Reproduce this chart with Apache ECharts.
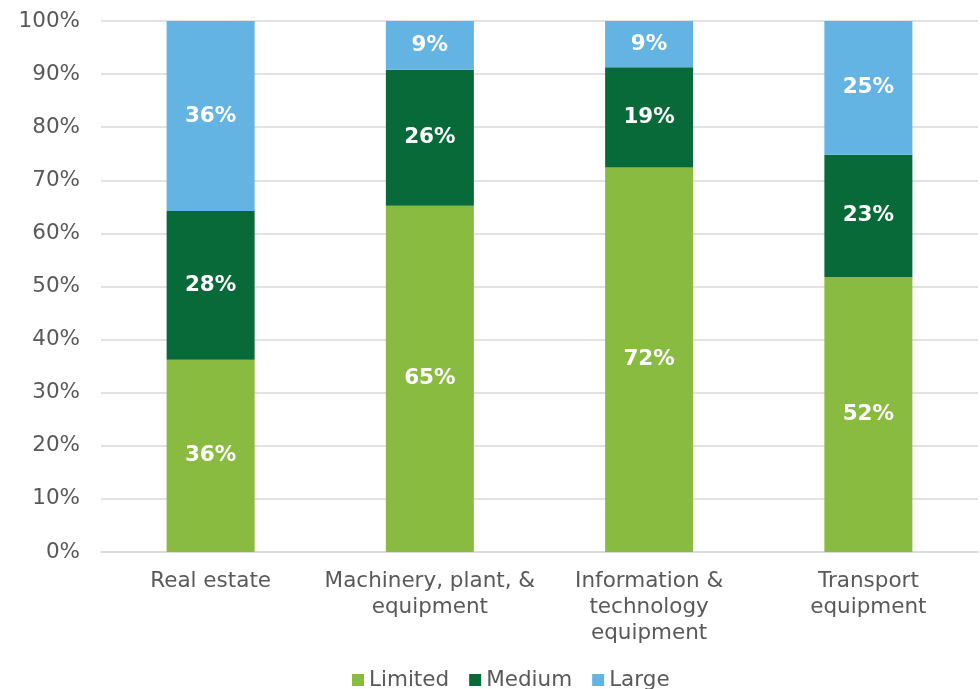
<!DOCTYPE html>
<html><head><meta charset="utf-8">
<script src="https://cdn.jsdelivr.net/npm/echarts@6/dist/echarts.min.js"></script>
<style>html,body{margin:0;padding:0;background:#fff}#c{width:980px;height:689px}</style>
</head><body><div id="c"></div>
<script>
const categories = ['Real estate', 'Machinery, plant, &\nequipment', 'Information &\ntechnology\nequipment', 'Transport\nequipment'];
const limited = [36.2, 65.2, 72.4, 51.8];
const medium = [28.0, 25.6, 18.9, 23.0];
const large = [35.8, 9.2, 8.7, 25.2];
const yTicks = [0, 10, 20, 30, 40, 50, 60, 70, 80, 90, 100];

const FONT = '"DejaVu Sans", sans-serif';
const FS = 21.5;
const chart = echarts.init(document.getElementById('c'));
const lbl = {
  show: true, position: 'inside', color: '#fff', fontWeight: 'bold', fontSize: FS, fontFamily: FONT,
  formatter: p => Math.round(p.value) + '%'
};
function mk(name, data, color) {
  return { name, type: 'bar', stack: 'a', data, barWidth: 88, itemStyle: { color }, label: lbl };
}
chart.setOption({
  animation: false,
  grid: { left: 101, right: 2, top: 21, bottom: 137, containLabel: false },
  legend: {
    top: 664, left: 347, icon: 'rect', itemWidth: 12, itemHeight: 12, itemGap: 20,
    textStyle: { color: '#595959', fontSize: FS, fontFamily: FONT },
    data: ['Limited', 'Medium', 'Large']
  },
  xAxis: {
    type: 'category', data: categories,
    axisLine: { lineStyle: { color: '#d9d9d9', width: 1.5 } }, axisTick: { show: false },
    axisLabel: { color: '#595959', fontSize: FS, fontFamily: FONT, lineHeight: 26, margin: 16, interval: 0 }
  },
  yAxis: {
    type: 'value', min: 0, max: 100, interval: 10,
    axisLabel: { color: '#595959', fontSize: FS, fontFamily: FONT, margin: 21, formatter: v => yTicks.includes(v) ? v + '%' : '' },
    splitLine: { lineStyle: { color: '#d9d9d9', width: 1.5 } },
    axisLine: { show: false }, axisTick: { show: false }
  },
  series: [
    mk('Limited', limited, '#88bb40'),
    mk('Medium', medium, '#076a38'),
    mk('Large', large, '#63b3e3')
  ]
});
</script></body></html>
